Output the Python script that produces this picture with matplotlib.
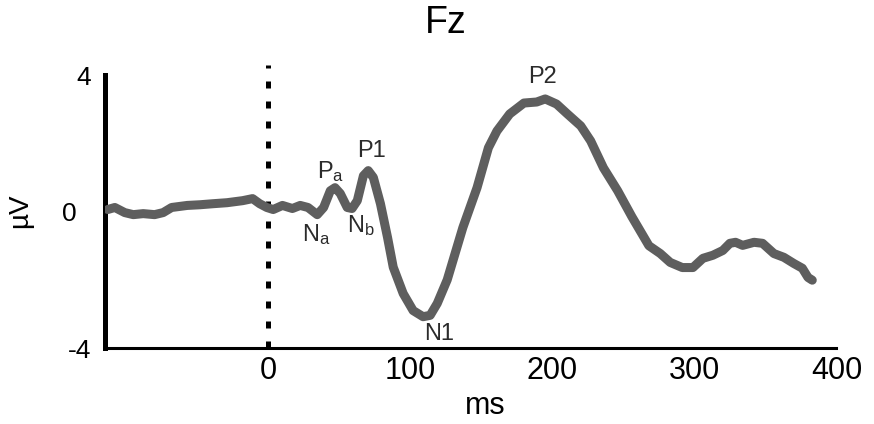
import matplotlib.pyplot as plt
from matplotlib.transforms import ScaledTranslation

plt.rcParams['font.family'] = ['Liberation Sans', 'DejaVu Sans']
plt.rcParams['mathtext.default'] = 'regular'
plt.rcParams['axes.unicode_minus'] = False

# =========================================================
# DATOS (ERP en Fz)
# =========================================================

tiempo = [
    -113, -108, -101, -95, -88, -80, -74, -68, -57, -48,
    -39, -29, -18, -11, -6, -1, 3.5, 10, 17, 22.5,
    28, 34.5, 39, 43.7, 47, 50.7, 55.6, 59, 62.7, 67,
    70.4, 74, 79, 84, 88, 95, 102, 109, 114, 119,
    126, 137, 147, 155, 161, 170, 180, 189, 195, 203,
    210.6, 220, 227, 236, 246, 256, 268, 276, 283, 291.5,
    299, 306, 313, 320, 325, 329, 334, 342, 348, 356,
    363, 370, 376, 380, 383
]

amplitud = [
    0.06, 0.12, -0.03, -0.09, -0.06, -0.09, -0.03, 0.12, 0.18, 0.20,
    0.23, 0.26, 0.32, 0.38, 0.23, 0.12, 0.06, 0.18, 0.09, 0.18,
    0.12, -0.09, 0.12, 0.61, 0.70, 0.53, 0.12, 0.09, 0.32, 1.05,
    1.20, 1.00, 0.23, -0.76, -1.63, -2.40, -2.90, -3.08, -3.04, -2.69,
    -2.00, -0.47, 0.70, 1.87, 2.36, 2.86, 3.18, 3.21, 3.30, 3.15,
    2.86, 2.51, 2.07, 1.28, 0.61, -0.15, -1.00, -1.23, -1.49, -1.64,
    -1.64, -1.37, -1.28, -1.14, -0.93, -0.90, -0.99, -0.90, -0.93, -1.23,
    -1.34, -1.52, -1.66, -1.93, -2.01
]

componentes = ['P$_a$', 'N$_a$', 'P1', 'N$_b$', 'N1', 'P2']
comp_x = [44, 34, 73, 65, 120, 193]
comp_y = [1.17, -0.67, 1.78, -0.41, -3.59, 3.94]

ticks_x = [0, 100, 200, 300, 400]
ticks_y = [-4, 0, 4]

# =========================================================
# FIGURA
# =========================================================

fig, ax = plt.subplots(figsize=(8.74, 4.24), dpi=100)
fig.subplots_adjust(left=0.120, right=0.957, bottom=0.179, top=0.823)

ax.plot(
    tiempo,
    amplitud,
    color='#5e5e5e',
    linewidth=6.5,
    solid_capstyle='round',
    solid_joinstyle='round',
    zorder=3
)

# linea del estimulo
ax.plot(
    [0, 0],
    [-4, 4.3],
    color='black',
    linewidth=3.6,
    linestyle=(0, (1.4, 2.6)),
    dash_capstyle='butt',
    clip_on=False,
    zorder=2
)

for nombre, x, y in zip(componentes, comp_x, comp_y):
    ax.text(x, y, nombre, ha='center', va='center',
            fontsize=17, color='#2b2b2b')

ax.set_xlim(-115, 400)
ax.set_ylim(-4, 4)

ax.set_xticks(ticks_x)
ax.set_yticks(ticks_y)

ax.spines['top'].set_visible(False)
ax.spines['right'].set_visible(False)
ax.spines['left'].set_linewidth(3.6)
ax.spines['bottom'].set_linewidth(2.2)
ax.spines['left'].set_bounds(-4, 4)

ax.tick_params(axis='x', length=0, labelsize=22, pad=6)
ax.tick_params(axis='y', length=0, labelsize=19, pad=10)

# el 0 del eje y esta un poco mas a la izquierda
etiqueta_cero = ax.yaxis.get_major_ticks()[1].label1
etiqueta_cero.set_transform(
    etiqueta_cero.get_transform()
    + ScaledTranslation(-0.14, 0, fig.dpi_scale_trans)
)

fig.text(446 / 874, 1 - 33 / 424, 'Fz', ha='center', va='baseline', fontsize=27)
fig.text(485 / 874, 1 - 414 / 424, 'ms', ha='center', va='baseline', fontsize=22)
fig.text(20 / 874, 1 - 211 / 424, 'µV', ha='center', va='center',
         rotation=90, fontsize=20)

fig.savefig('out.png', dpi=100)
